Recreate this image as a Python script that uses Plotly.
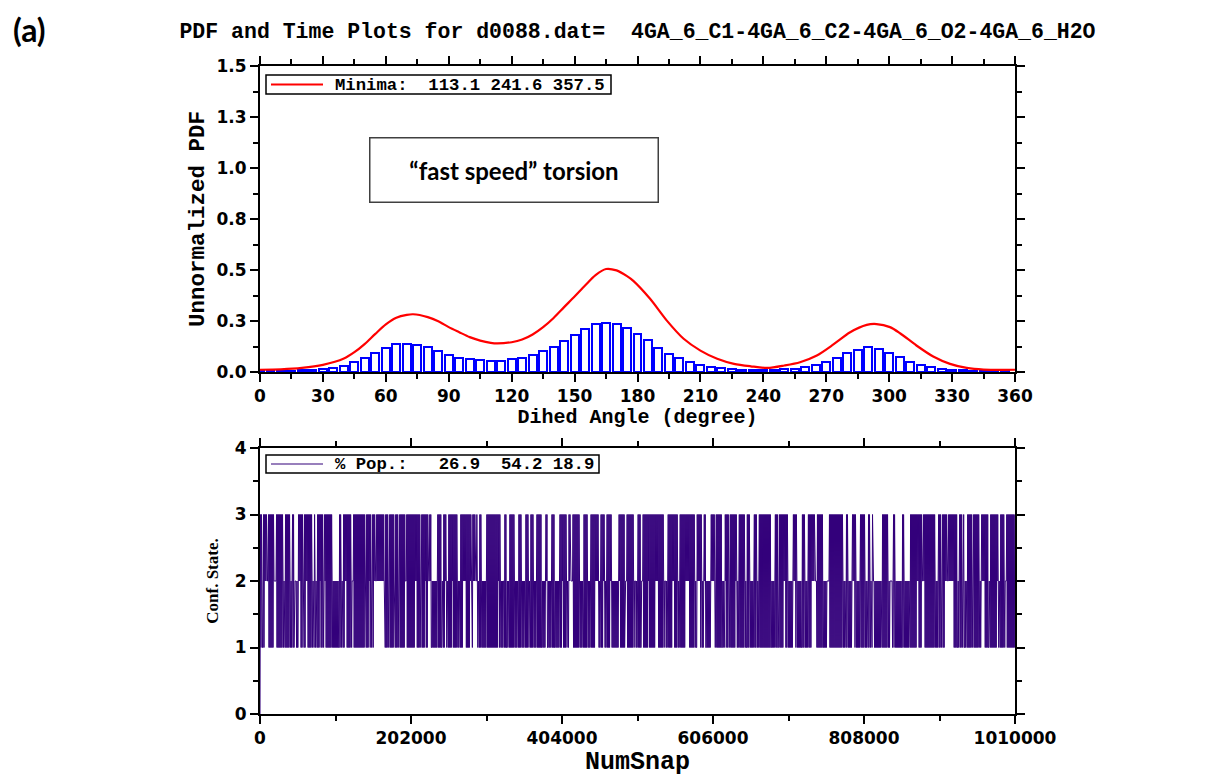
import numpy as np
import plotly.graph_objects as go

# ---------------- data ----------------
TITLE = "PDF and Time Plots for d0088.dat=  4GA_6_C1-4GA_6_C2-4GA_6_O2-4GA_6_H2O"

# histogram (bin centres, degrees) and unnormalized PDF heights
bin_centers = list(range(0, 360, 5))
bin_heights = [0.004, 0.004, 0.005, 0.006, 0.008, 0.010, 0.013, 0.018, 0.027, 0.051,
               0.068, 0.094, 0.117, 0.135, 0.135, 0.130, 0.122, 0.102, 0.082, 0.071,
               0.063, 0.058, 0.056, 0.056, 0.063, 0.068, 0.082, 0.102, 0.122, 0.151,
               0.182, 0.210, 0.236, 0.239, 0.236, 0.215, 0.187, 0.156, 0.117, 0.087,
               0.068, 0.048, 0.032, 0.024, 0.018, 0.014, 0.012, 0.010, 0.010, 0.011,
               0.013, 0.017, 0.025, 0.036, 0.051, 0.068, 0.092, 0.110, 0.122, 0.112,
               0.092, 0.072, 0.048, 0.034, 0.024, 0.014, 0.010, 0.008, 0.007, 0.006,
               0.005, 0.004]

# smoothed PDF curve (red)
curve_angle = [0, 10, 20, 30, 40, 45, 50, 55, 60, 65, 70, 73, 80, 85, 90, 95, 100, 105, 110,
               113, 120, 125, 130, 135, 140, 145, 150, 155, 160, 165, 170, 175, 178, 186, 194,
               202, 210, 218, 226, 234, 242, 250, 257.5, 265.5, 273.4, 281.4, 289.3, 294,
               300.4, 305.2, 313, 321, 329, 337, 345, 360]
curve_value = [0.011, 0.013, 0.020, 0.035, 0.066, 0.097, 0.138, 0.187, 0.233, 0.266, 0.280,
               0.283, 0.269, 0.249, 0.220, 0.195, 0.171, 0.154, 0.143, 0.140, 0.146, 0.159,
               0.184, 0.220, 0.265, 0.318, 0.370, 0.424, 0.475, 0.505, 0.498, 0.470, 0.447,
               0.359, 0.252, 0.163, 0.105, 0.065, 0.040, 0.028, 0.020, 0.032, 0.048, 0.081,
               0.135, 0.195, 0.231, 0.235, 0.220, 0.190, 0.130, 0.076, 0.040, 0.020, 0.012,
               0.011]

MINIMA_LABEL = "Minima:\u00a0\u00a0113.1 241.6 357.5"
POP_LABEL = "% Pop.:\u00a0\u00a0\u00a026.9\u00a0\u00a054.2\u00a018.9"

# time series: NumSnap intervals where state 3 is never visited (upper gaps)
upper_gaps = [(2300, 3600), (9400, 11100), (18700, 21000), (30800, 33400), (40500, 43200),
              (45900, 50400), (57100, 58900), (70000, 71800), (73600, 75900), (84700, 86000),
              (95900, 105700), (108400, 111000), (121300, 124400), (140500, 141800),
              (148900, 150200), (153800, 155200), (165500, 167200), (171600, 173500),
              (178900, 180600), (185000, 186900), (194000, 196200), (215000, 216300),
              (220700, 221700), (225100, 226100), (229700, 237700), (243100, 245200),
              (249800, 251900), (263500, 267600), (282300, 284000), (287600, 289400),
              (291200, 293000), (296600, 303300), (321100, 326800), (330000, 333100),
              (340200, 345500), (349200, 354500), (358900, 361200), (365600, 370200),
              (376800, 381300), (384900, 390200), (394600, 401300), (410300, 412400),
              (416000, 417800), (428100, 432500), (438400, 442800), (453500, 456200),
              (460600, 463800), (470500, 479300), (488300, 490600), (499400, 505300),
              (509700, 511400), (539500, 545400), (558800, 561900), (581000, 584200),
              (590900, 593000), (596600, 603300), (607700, 610000), (618400, 621100),
              (626500, 628700), (637700, 640800), (647900, 651100), (655500, 660900),
              (664400, 667500), (683600, 688900), (693300, 694700), (706700, 713400),
              (718000, 724700), (729100, 733500), (742500, 744700), (753600, 761200),
              (780300, 783500), (787000, 791500), (796900, 802700), (809300, 812900),
              (816000, 818300), (820400, 831700), (840500, 847200), (849500, 858400),
              (861900, 869500), (885200, 887300), (903000, 907400), (911000, 912800),
              (918600, 920800), (933300, 935500), (938700, 940900), (942200, 945400),
              (952100, 954200), (961800, 964500), (974300, 976600), (987700, 989900),
              (995700, 998900)]
# NumSnap intervals where state 1 is never visited (lower gaps)
lower_gaps = [(6700, 10300), (19100, 22300), (45900, 47800), (51200, 53900), (61500, 63800),
              (79300, 81200), (86600, 88300), (112800, 116400), (122700, 124800),
              (144900, 147200), (152500, 165900), (193000, 196200), (207400, 209100),
              (225100, 228800), (247500, 249800), (256400, 258600), (272000, 275200),
              (280900, 283200), (285300, 287600), (288500, 291200), (318400, 319700),
              (325500, 326800), (381300, 383500), (404400, 405700), (413400, 419100),
              (448100, 452600), (459200, 461500), (468200, 470500), (479300, 481600),
              (488300, 490600), (500700, 502600), (510600, 512800), (518700, 520400),
              (528400, 532000), (540800, 542700), (551600, 554200), (569500, 573900),
              (585500, 588600), (593000, 595300), (604300, 607300), (622000, 624300),
              (635400, 637700), (700000, 702300), (713400, 715700), (737100, 744700),
              (758900, 761600), (791500, 795000), (819100, 821800), (842800, 845100),
              (878500, 881600), (886000, 888700), (916300, 927500), (964500, 968900),
              (985500, 987700), (996600, 998900)]
N_SNAP = 1010000
SNAP_STEP = 670
x_ticks_bottom = [0, 202000, 404000, 606000, 808000, 1010000]
y_tickvals_top = [0, 0.25, 0.5, 0.75, 1.0, 1.25, 1.5]
y_ticktext_top = ["0.0", "0.3", "0.5", "0.8", "1.0", "1.3", "1.5"]


def in_any(t, gaps):
    return any(a <= t <= b for a, b in gaps)


# build the state trajectory from the read-off visiting pattern
snaps = [0]
states = [0]
for k, t in enumerate(np.arange(SNAP_STEP, N_SNAP, SNAP_STEP)):
    up = not in_any(t, upper_gaps)
    lo = not in_any(t, lower_gaps)
    if up and lo:
        s = 3 if k % 2 == 0 else 1
    elif up:
        s = 3 if k % 2 == 0 else 2
    elif lo:
        s = 1 if k % 2 == 0 else 2
    else:
        s = 2
    snaps.append(int(t))
    states.append(s)

# ---------------- figure ----------------
W, H = 1210, 782
L, R = 260, 1015
TOP_T, TOP_B = 66, 372
BOT_T, BOT_B = 448, 714

MONO = "Liberation Mono"
TICKFONT = dict(family="DejaVu Sans", size=17, color="black", weight="bold")
INDIGO = "#33007b"
RED = "#ff0000"


def px(x):
    return x / W


def py(y):
    return 1 - y / H


fig = go.Figure()
fig.add_trace(go.Bar(x=bin_centers, y=bin_heights, width=3.8,
                     marker=dict(color="white", line=dict(color="#0000ff", width=2)),
                     showlegend=False, xaxis="x", yaxis="y"))
fig.add_trace(go.Scatter(x=curve_angle, y=curve_value, mode="lines",
                         line=dict(color=RED, width=2.2, shape="spline", smoothing=0.8),
                         name=MINIMA_LABEL, showlegend=False, xaxis="x", yaxis="y"))
fig.add_trace(go.Scatter(x=snaps, y=states, mode="lines",
                         line=dict(color=INDIGO, width=1),
                         name=POP_LABEL, showlegend=False, xaxis="x2", yaxis="y2"))

xdom = [px(L), px(R)]
axis_common = dict(showline=True, linecolor="black", linewidth=2, mirror="ticks",
                   ticks="outside", ticklen=8, tickwidth=2, tickcolor="black",
                   showgrid=False, zeroline=False, tickfont=TICKFONT, automargin=False)
minor_common = dict(ticklen=5, tickwidth=2, ticks="outside", tickcolor="black")

LEG_FONT = dict(family=MONO, size=17.3, color="black", weight="bold")

shapes = [
    # legend boxes (top / bottom panel)
    dict(type="rect", xref="paper", yref="paper", x0=px(266), x1=px(611), y0=py(94), y1=py(75),
         line=dict(color="black", width=1.5), fillcolor="white", layer="above"),
    dict(type="line", xref="paper", yref="paper", x0=px(271), x1=px(323), y0=py(84.5), y1=py(84.5),
         line=dict(color=RED, width=2.2), layer="above"),
    dict(type="rect", xref="paper", yref="paper", x0=px(266), x1=px(599), y0=py(473), y1=py(455),
         line=dict(color="black", width=1.5), fillcolor="white", layer="above"),
    dict(type="line", xref="paper", yref="paper", x0=px(271), x1=px(323), y0=py(464), y1=py(464),
         line=dict(color=INDIGO, width=1.2), layer="above"),
]

fig.update_layout(
    width=W, height=H,
    margin=dict(l=0, r=0, t=0, b=0, autoexpand=False),
    paper_bgcolor="white", plot_bgcolor="white",
    bargap=0, showlegend=False,
    title=dict(text=TITLE, x=px((L + R) / 2), xanchor="center", y=py(30), yanchor="middle",
               font=dict(family=MONO, size=21.5, color="black", weight="bold")),
    xaxis=dict(domain=xdom, anchor="y", range=[0, 360], tickvals=list(range(0, 361, 30)),
               minor=dict(dtick=15, **minor_common),
               title=dict(text="Dihed Angle (degree)", standoff=4,
                          font=dict(family=MONO, size=20, color="black", weight="bold")),
               **axis_common),
    yaxis=dict(domain=[py(TOP_B), py(TOP_T)], anchor="x", range=[0, 1.5],
               tickvals=y_tickvals_top, ticktext=y_ticktext_top,
               minor=dict(dtick=0.125, **minor_common),
               title=dict(text="Unnormalized PDF", standoff=6,
                          font=dict(family=MONO, size=22.5, color="black", weight="bold")),
               **axis_common),
    xaxis2=dict(domain=xdom, anchor="y2", range=[0, N_SNAP], tickvals=x_ticks_bottom,
                ticktext=[str(v) for v in x_ticks_bottom],
                minor=dict(dtick=101000, **minor_common),
                title=dict(text="NumSnap", standoff=2,
                           font=dict(family=MONO, size=25, color="black", weight="bold")),
                **axis_common),
    yaxis2=dict(domain=[py(BOT_B), py(BOT_T)], anchor="x2", range=[0, 4],
                tickvals=[0, 1, 2, 3, 4],
                minor=dict(dtick=0.5, **minor_common),
                title=dict(text="Conf. State.", standoff=12,
                           font=dict(family="Liberation Serif", size=17, color="black", weight="bold")),
                **axis_common),
    shapes=shapes,
    annotations=[
        dict(text=MINIMA_LABEL, xref="paper", yref="paper", x=px(333), y=py(85),
             xanchor="left", yanchor="middle", showarrow=False, font=LEG_FONT),
        dict(text=POP_LABEL, xref="paper", yref="paper", x=px(333), y=py(464.5),
             xanchor="left", yanchor="middle", showarrow=False, font=LEG_FONT),
        dict(text="\u201cfast speed\u201d torsion", xref="paper", yref="paper",
             x=px(513.5), y=py(170.5), xanchor="center", yanchor="middle",
             showarrow=False, width=285, height=61, borderpad=1,
             bordercolor="#404040", borderwidth=1.5, bgcolor="white",
             font=dict(family="Lato", size=24, color="black", weight="bold")),
        dict(text="(a)", xref="paper", yref="paper", x=px(29), y=py(29),
             xanchor="center", yanchor="middle", showarrow=False,
             font=dict(family="Lato", size=32, color="black", weight="bold")),
    ],
)

fig.write_html("out.html",
               config={"displayModeBar": False},
               post_script="document.body.style.margin='0';document.body.style.overflow='hidden';")
